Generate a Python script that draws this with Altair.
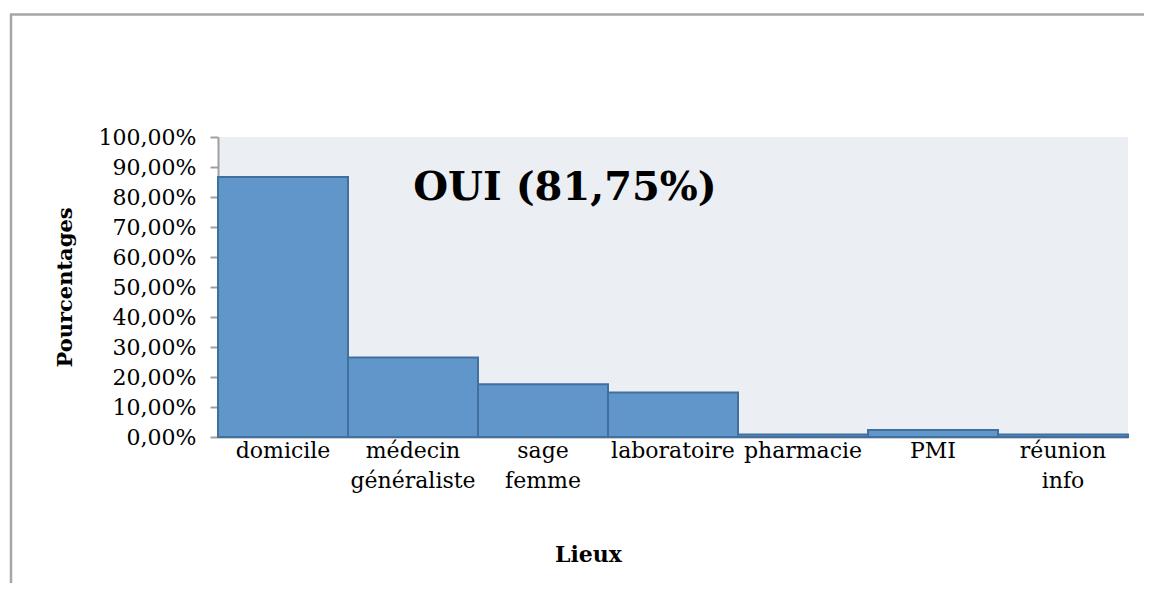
import altair as alt
import pandas as pd

lieux = ["domicile", "médecin\ngénéraliste", "sage\nfemme", "laboratoire",
         "pharmacie", "PMI", "réunion\ninfo"]
pourcentages = [0.867, 0.265, 0.176, 0.148, 0.008, 0.023, 0.008]
y_ticks = [0, 0.1, 0.2, 0.3, 0.4, 0.5, 0.6, 0.7, 0.8, 0.9, 1.0]
annotation = "OUI (81,75%)"

df = pd.DataFrame({"lieu": lieux, "pct": pourcentages})

FONT = "DejaVu Serif"
GREY = "#A0A0A0"

bars = alt.Chart(df).mark_bar(
    fill="#6096C9", stroke="#41709F", strokeWidth=2
).encode(
    x=alt.X("lieu:N", sort=lieux,
            scale=alt.Scale(paddingInner=0, paddingOuter=0),
            axis=alt.Axis(title="Lieux", labelAngle=0,
                          labelExpr="split(datum.label, '\\n')",
                          labelFont=FONT, labelFontSize=22, labelColor="black",
                          labelLineHeight=30, labelPadding=3, labelBaseline="top",
                          ticks=False, domainColor=GREY, domainWidth=2,
                          titleFont=FONT, titleFontSize=22, titleFontWeight="bold",
                          titleColor="black", titlePadding=53,
                          titleX=370, titleAlign="center")),
    y=alt.Y("pct:Q", scale=alt.Scale(domain=[0, 1], nice=False),
            axis=alt.Axis(title="Pourcentages", values=y_ticks, grid=False,
                          labelExpr="replace(format(datum.value, '.2%'), '.', ',')",
                          labelFont=FONT, labelFontSize=22, labelColor="black",
                          labelPadding=14, tickSize=8, tickColor=GREY, tickWidth=2,
                          domainColor=GREY, domainWidth=2,
                          titleFont=FONT, titleFontSize=21, titleFontWeight="bold",
                          titleColor="black", titlePadding=23)),
)

label_df = pd.DataFrame({"t": [annotation]})
label = alt.Chart(label_df).mark_text(
    font=FONT, fontSize=40, fontWeight="bold", color="black",
    align="center", baseline="middle"
).encode(text="t:N", x=alt.value(347), y=alt.value(51))

border_df = pd.DataFrame({"k": [1]})
top_line = alt.Chart(border_df).mark_rule(color="#A6A6A6", strokeWidth=2.5).encode(
    x=alt.value(-208), x2=alt.value(950), y=alt.value(-122.5))
left_line = alt.Chart(border_df).mark_rule(color="#A6A6A6", strokeWidth=2.5).encode(
    x=alt.value(-207), y=alt.value(-123), y2=alt.value(460))

chart = alt.layer(bars, label, top_line, left_line).properties(
    width=910, height=300,
    autosize=alt.AutoSizeParams(type="none"),
    padding={"left": 210, "top": 129, "right": 16, "bottom": 146},
    background="white",
).configure_view(fill="#EBEEF3", stroke=None)

chart.save("out.html", embed_options={"renderer": "svg", "actions": False})
